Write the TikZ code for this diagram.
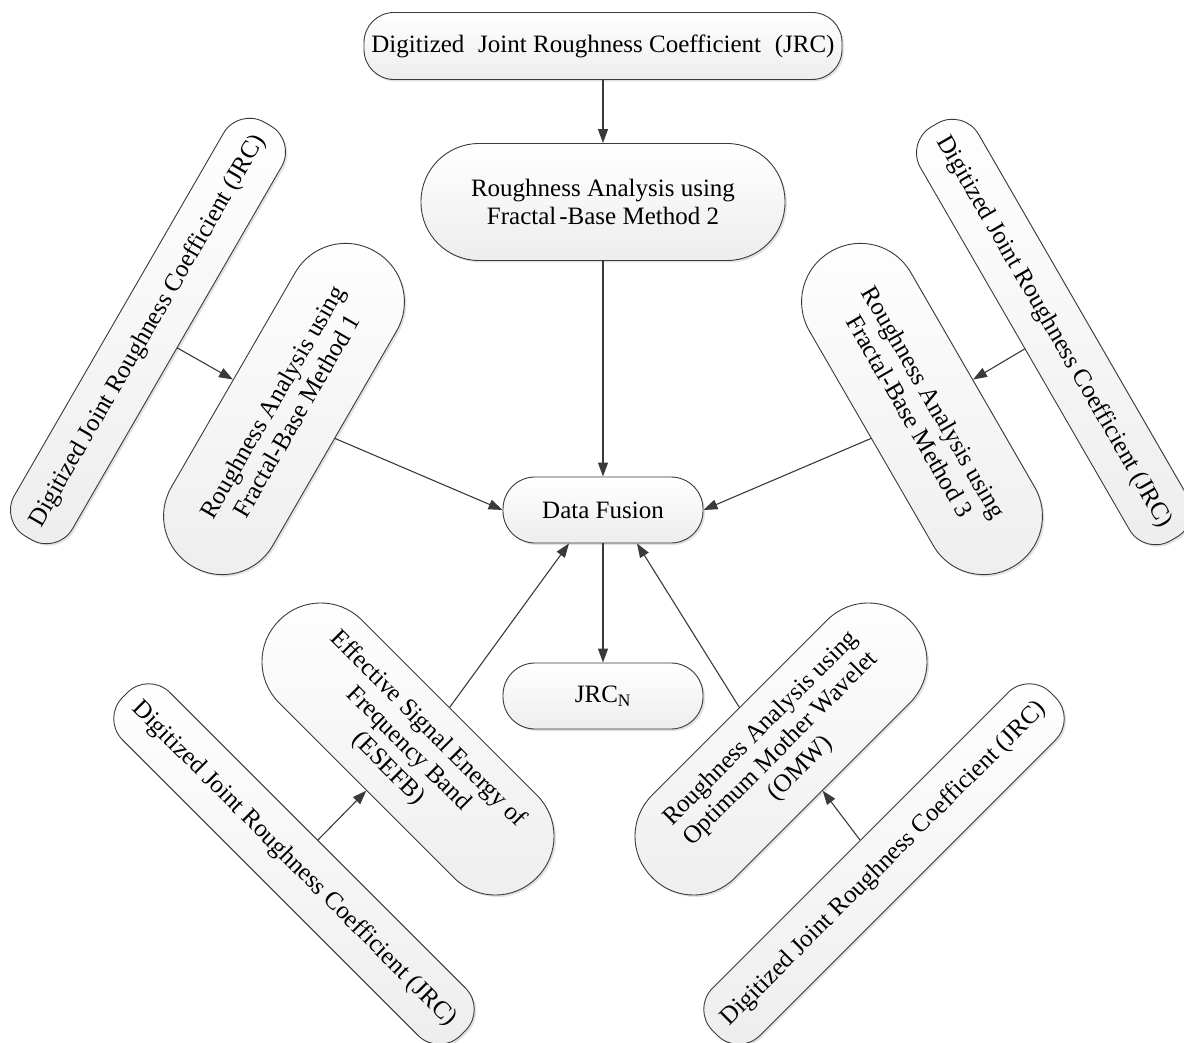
\documentclass[tikz,border=0pt]{standalone}
\usepackage{fontspec}
\setmainfont{Liberation Serif}
\usetikzlibrary{arrows.meta,shadows}
\definecolor{edge}{HTML}{3A3A3A}
\begin{document}
\begin{tikzpicture}[x=1pt,y=-1pt,
  box/.style={draw=edge, line width=0.9pt, top color=white, bottom color=black!7,
    align=center, inner sep=0pt, font=\fontsize{25}{28}\selectfont,
    drop shadow={shadow xshift=2pt,shadow yshift=-2pt,fill=black!25,opacity=0.45}},
  jrc/.style={box, minimum width=478pt, minimum height=67pt, rounded corners=30pt},
  meth/.style={box, minimum width=364pt, minimum height=117pt, rounded corners=58pt},
  small/.style={box, minimum width=200pt, minimum height=66pt, rounded corners=32pt},
  arr/.style={draw=edge, line width=1.1pt, -{Triangle[length=14pt,width=10pt]}}]
\useasboundingbox (0,0) rectangle (1184,1043);

\node[jrc] (top) at (603,46) {Digitized\hspace{0.3em} Joint Roughness Coefficient\hspace{0.3em} (JRC)};
\node[meth] (m2) at (603,202) {Roughness Analysis using\\Fractal\hspace{0.12em}-Base Method 2};
\node[small] (df) at (603,510) {Data Fusion};
\node[small] (jn) at (603,696) {JRC\textsubscript{N}};

\node[meth, rotate=60] (m1) at (284,409) {Roughness Analysis using\\Fractal-Base Method 1};
\node[jrc, rotate=60] (jl) at (148,331) {Digitized Joint Roughness Coefficient (JRC)};

\node[meth, rotate=-60] (m3) at (922,409) {Roughness Analysis using\\Fractal-Base Method 3};
\node[jrc, rotate=-60] (jr) at (1054,332) {Digitized Joint Roughness Coefficient (JRC)};

\node[meth, rotate=-45] (es) at (408,749) {Effective Signal Energy of\\Frequency Band\\(ESEFB)};
\node[jrc, rotate=-45] (jbl) at (294,864) {Digitized Joint Roughness Coefficient (JRC)};

\node[meth, rotate=45] (om) at (781,749) {Roughness Analysis using\\Optimum Mother Wavelet\\(OMW)};
\node[jrc, rotate=45] (jbr) at (884,864) {Digitized Joint Roughness Coefficient (JRC)};

\draw[arr] (top.south) -- (m2.north);
\draw[arr] (m2.south) -- (df.north);
\draw[arr] (jl.south) -- (m1.north);
\draw[arr] (m1.south) -- (df.west);
\draw[arr] (jr.south) -- (m3.north);
\draw[arr] (m3.south) -- (df.east);
\draw[arr] (jbl.north) -- (es.south);
\draw[arr] (es.north) -- ([xshift=-34pt]df.south);
\draw[arr] (jbr.north) -- (om.south);
\draw[arr] (om.north) -- ([xshift=34pt]df.south);
\draw[arr] (df.south) -- (jn.north);
\end{tikzpicture}
\end{document}
